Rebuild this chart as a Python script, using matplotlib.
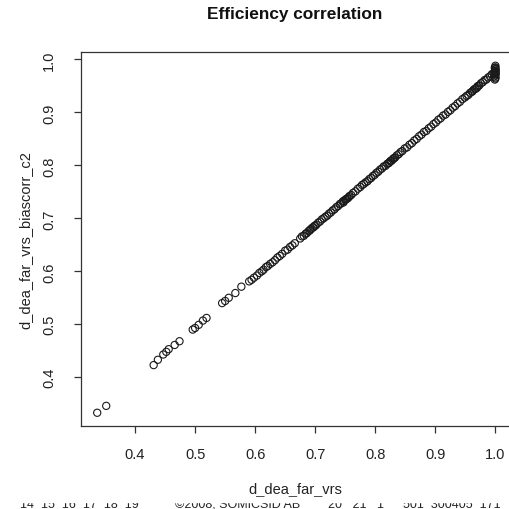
import matplotlib
matplotlib.use("Agg")
import matplotlib.pyplot as plt
from matplotlib.patches import Rectangle

plt.rcParams['font.family'] = ['Liberation Sans', 'DejaVu Sans']

# efficiency scores (x: d_dea_far_vrs, y: biascorr_c2)
far_vrs = [
    0.337, 0.352, 0.431, 0.438, 0.447, 0.452, 0.456, 0.466, 0.474,
    0.496, 0.500, 0.506, 0.513, 0.519, 0.545, 0.550, 0.556, 0.567, 0.577,
    0.590, 0.594, 0.598, 0.603, 0.607, 0.611, 0.614, 0.618, 0.621, 0.625,
    0.629, 0.633, 0.637, 0.641, 0.645, 0.650, 0.654, 0.658, 0.662, 0.666,
    0.675, 0.678, 0.681, 0.684, 0.686, 0.689, 0.691, 0.694, 0.697, 0.699,
    0.702, 0.705, 0.708, 0.711, 0.714, 0.717, 0.720, 0.723, 0.726, 0.729,
    0.732, 0.735, 0.738, 0.741, 0.743, 0.746, 0.748, 0.751, 0.754, 0.757,
    0.760, 0.763, 0.767, 0.771, 0.775, 0.778, 0.781, 0.784, 0.787, 0.790,
    0.793, 0.796, 0.799, 0.802, 0.805, 0.808, 0.811, 0.814, 0.817, 0.820,
    0.822, 0.825, 0.827, 0.830, 0.833, 0.836, 0.839, 0.842, 0.845, 0.849,
    0.853, 0.857, 0.861, 0.865, 0.869, 0.873, 0.877, 0.881, 0.885, 0.889,
    0.893, 0.897, 0.901, 0.905, 0.909, 0.913, 0.917, 0.921, 0.925, 0.929,
    0.933, 0.937, 0.941, 0.945, 0.949, 0.952, 0.955, 0.958, 0.961, 0.964,
    0.967, 0.970, 0.973, 0.976, 0.979, 0.982, 0.985, 0.988, 0.991, 0.994,
    0.997,
    0.692, 0.696, 0.700, 0.747, 0.750, 0.753, 0.756, 0.823, 0.826, 0.829,
    0.832, 0.962, 0.966, 0.969, 0.972,
    0.999, 1.000, 1.000, 1.000, 1.000, 1.000, 1.000, 1.000, 1.000, 0.998,
    1.000, 1.000, 1.000, 1.000, 1.000, 0.999, 0.999, 0.999,
]
biascorr_c2 = [
    0.333, 0.346, 0.423, 0.433, 0.443, 0.448, 0.453, 0.461, 0.468,
    0.490, 0.493, 0.499, 0.507, 0.512, 0.540, 0.544, 0.550, 0.559, 0.571,
    0.581, 0.584, 0.588, 0.592, 0.597, 0.600, 0.603, 0.608, 0.610, 0.614,
    0.617, 0.621, 0.626, 0.629, 0.633, 0.639, 0.641, 0.646, 0.649, 0.653,
    0.662, 0.666, 0.667, 0.671, 0.672, 0.676, 0.677, 0.681, 0.683, 0.686,
    0.688, 0.692, 0.694, 0.698, 0.700, 0.703, 0.705, 0.709, 0.711, 0.715,
    0.717, 0.721, 0.723, 0.727, 0.728, 0.732, 0.733, 0.736, 0.738, 0.742,
    0.744, 0.748, 0.751, 0.756, 0.759, 0.763, 0.765, 0.768, 0.770, 0.774,
    0.776, 0.780, 0.782, 0.786, 0.788, 0.792, 0.794, 0.798, 0.799, 0.803,
    0.804, 0.808, 0.809, 0.813, 0.815, 0.819, 0.821, 0.825, 0.827, 0.832,
    0.834, 0.839, 0.842, 0.847, 0.850, 0.855, 0.858, 0.863, 0.865, 0.870,
    0.873, 0.878, 0.881, 0.886, 0.889, 0.894, 0.896, 0.901, 0.904, 0.909,
    0.912, 0.917, 0.920, 0.925, 0.928, 0.931, 0.933, 0.937, 0.939, 0.943,
    0.945, 0.949, 0.951, 0.955, 0.957, 0.961, 0.962, 0.966, 0.968, 0.972,
    0.974,
    0.679, 0.683, 0.686, 0.730, 0.735, 0.737, 0.740, 0.805, 0.808, 0.811,
    0.814, 0.940, 0.944, 0.946, 0.950,
    0.962, 0.966, 0.970, 0.973, 0.976, 0.979, 0.982, 0.985, 0.988, 0.968,
    0.964, 0.972, 0.975, 0.978, 0.981, 0.974, 0.977, 0.984,
]

# footer pieces of the scanned page and where they start (pixels)
footer_parts = ['14  15  16  17  18  19', '\u00a92008, SOMICSID AB',
                '20   21   1', '501  300405  171']
footer_x = [20, 175, 328, 403]

fig = plt.figure(figsize=(5.1, 5.1), dpi=100)
ax = fig.add_axes([81 / 510, 1 - 427 / 510, 430 / 510, 374 / 510])

ax.scatter(far_vrs, biascorr_c2, s=27, facecolors='none', edgecolors='#1a1a1a',
           linewidths=0.8)

ax.set_xlim(0.310, 1.026)
ax.set_ylim(0.308, 1.014)
ax.set_xticks([0.4, 0.5, 0.6, 0.7, 0.8, 0.9, 1.0])
ax.set_yticks([0.4, 0.5, 0.6, 0.7, 0.8, 0.9, 1.0])
ax.set_xticklabels(['0.4', '0.5', '0.6', '0.7', '0.8', '0.9', '1.0'])
ax.set_yticklabels(['0.4', '0.5', '0.6', '0.7', '0.8', '0.9', '1.0'],
                   rotation=90, va='center')
ax.tick_params(axis='both', direction='out', length=5, width=0.9,
               color='#333333', labelsize=10.5, labelcolor='#222222')
ax.tick_params(axis='x', pad=10)
ax.tick_params(axis='y', pad=13)
for sp in ax.spines.values():
    sp.set_linewidth(0.9)
    sp.set_color('#333333')

fig.text(295 / 510, 1 - 15 / 510, 'Efficiency correlation', ha='center',
         va='center', fontsize=12.4, fontweight='bold', color='#111111')
fig.text(295 / 510, 1 - 489 / 510, 'd_dea_far_vrs', ha='center', va='center',
         fontsize=10.5, color='#222222')
fig.text(25 / 510, 1 - 240 / 510, 'd_dea_far_vrs_biascorr_c2', ha='center',
         va='center', rotation=90, fontsize=10.5, color='#222222')

# footer line at the bottom edge, its top part hidden like in the scan
for part, px in zip(footer_parts, footer_x):
    fig.text(px / 510, 1 - 508 / 510, part, ha='left', va='baseline',
             fontsize=9, color='#222222')
fig.patches.append(Rectangle((0, 1 - 502.5 / 510), 1, 4.5 / 510,
                             transform=fig.transFigure, color='white',
                             zorder=5))

fig.savefig('out.png', dpi=100)
